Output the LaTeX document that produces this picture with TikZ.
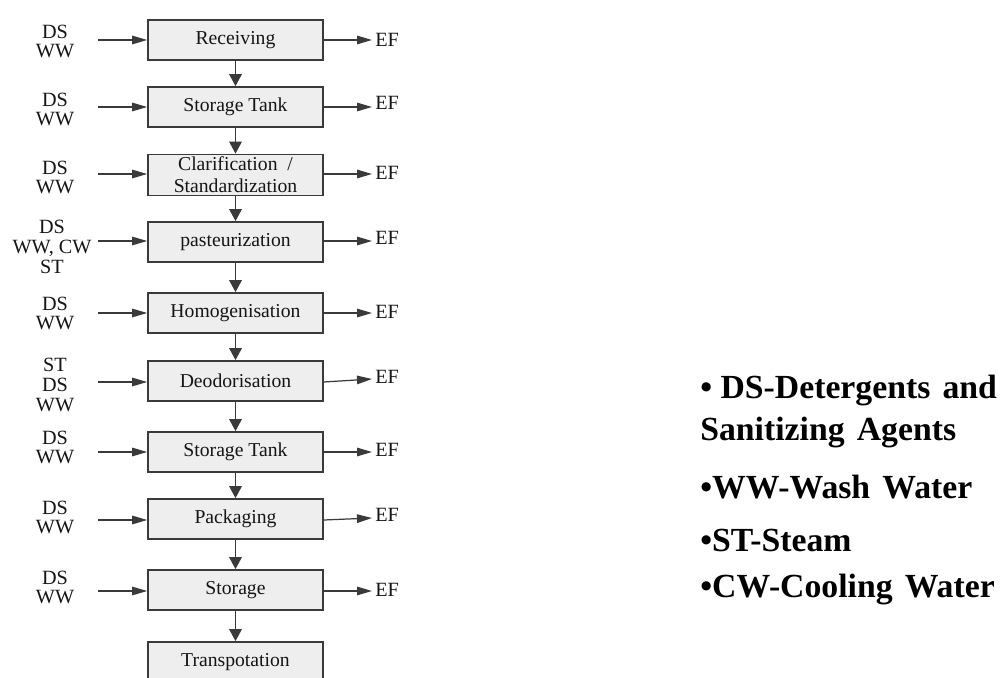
\documentclass[tikz,border=0pt]{standalone}
\usepackage{fontspec}
\setmainfont{Liberation Serif}
\usetikzlibrary{arrows.meta}
\definecolor{boxfill}{HTML}{EEEEEE}
\definecolor{linegray}{HTML}{3A3A3A}
\definecolor{txt}{HTML}{151515}
\newcommand{\wsp}{\hspace{0.36em}}
\tikzset{
  stepbox/.style={draw=linegray, fill=boxfill, line width=1pt, minimum width=3.5cm, minimum height=0.8cm, inner sep=1pt, align=center, font=\fontsize{11.2}{12.5}\selectfont, text=txt},
  inlabel/.style={align=center, font=\fontsize{11.5}{10.8}\selectfont, text=txt, inner sep=0pt},
  inlabelwide/.style={align=center, font=\fontsize{11.5}{11.3}\selectfont, text=txt, inner sep=0pt},
  eflabel/.style={anchor=west, font=\fontsize{11.5}{13}\selectfont, text=txt, inner sep=0pt},
  harrow/.style={draw=linegray, line width=0.7pt, -{Triangle[length=0.3cm, width=0.17cm]}},
  varrow/.style={draw=linegray, line width=0.9pt, -{Triangle[length=0.24cm, width=0.25cm]}},
  legend/.style={anchor=west, align=left, font=\fontsize{19.2}{22.5}\bfseries\selectfont, text=black, inner sep=0pt}
}
\begin{document}
\begin{tikzpicture}[x=0.02cm, y=-0.02cm]
\clip (0,0) rectangle (1000,678);
\fill[white] (0,0) rectangle (1000,678);
% process boxes
\node[stepbox] (b1) at (235.5,40) {Receiving};
\node[stepbox] (b2) at (235.5,107) {Storage Tank};
\node[stepbox, minimum height=0.82cm] (b3) at (235.5,175) {Clarification \ /\\Standardization};
\node[stepbox] (b4) at (235.5,242) {pasteurization};
\node[stepbox] (b5) at (235.5,313) {Homogenisation};
\node[stepbox] (b6) at (235.5,381) {Deodorisation};
\node[stepbox] (b7) at (235.5,452) {Storage Tank};
\node[stepbox] (b8) at (235.5,519) {Packaging};
\node[stepbox] (b9) at (235.5,590) {Storage};
\node[stepbox] (b10) at (235.5,662) {Transpotation};
% vertical arrows
\foreach \a/\b in {b1/b2,b2/b3,b3/b4,b4/b5,b5/b6,b6/b7,b7/b8,b8/b9,b9/b10}{
  \draw[varrow] (\a.south) -- (\b.north);
}
% input labels and start points
\node[inlabel] (l1) at (55,41) {DS\\WW};
\node[inlabel] (l2) at (55,109) {DS\\WW};
\node[inlabel] (l3) at (55,177) {DS\\WW};
\node[inlabelwide] (l4) at (52,247) {DS\\WW, CW\\ST};
\node[inlabel] (l5) at (55,313) {DS\\WW};
\node[inlabelwide] (l6) at (55,385) {ST\\DS\\WW};
\node[inlabel] (l7) at (55,447) {DS\\WW};
\node[inlabel] (l8) at (55,517) {DS\\WW};
\node[inlabel] (l9) at (55,587) {DS\\WW};
\foreach \i/\y in {1/40,2/107,3/174,4/241,5/313,6/382,7/452,8/520,9/591}{
  \coordinate (s\i) at (98,\y);
  \draw[harrow] (s\i) -- (b\i.west |- s\i);
}
% outputs
\foreach \i/\y/\e/\t in {1/40/40/40,2/107/107/103,3/174/174/173,4/241/241/238,5/313/313/312,6/382/379/377,7/452/452/450,8/520/518/515,9/591/591/590}{
  \coordinate (o\i) at (372,\e);
  \node[eflabel] (ef\i) at (375,\t) {EF};
  \draw[harrow] (b\i.east |- 0,\y) -- (o\i);
}
% legend
\node[legend] (g1) at (700,412) {\textbullet\ DS-Detergents\wsp and\\[0.05cm]Sanitizing\wsp Agents};
\node[legend] (g2) at (700,487) {\textbullet WW-Wash\wsp Water};
\node[legend] (g3) at (700,540) {\textbullet ST-Steam};
\node[legend] (g4) at (700,590) {\textbullet CW-Cooling\wsp Water};
\end{tikzpicture}
\end{document}
